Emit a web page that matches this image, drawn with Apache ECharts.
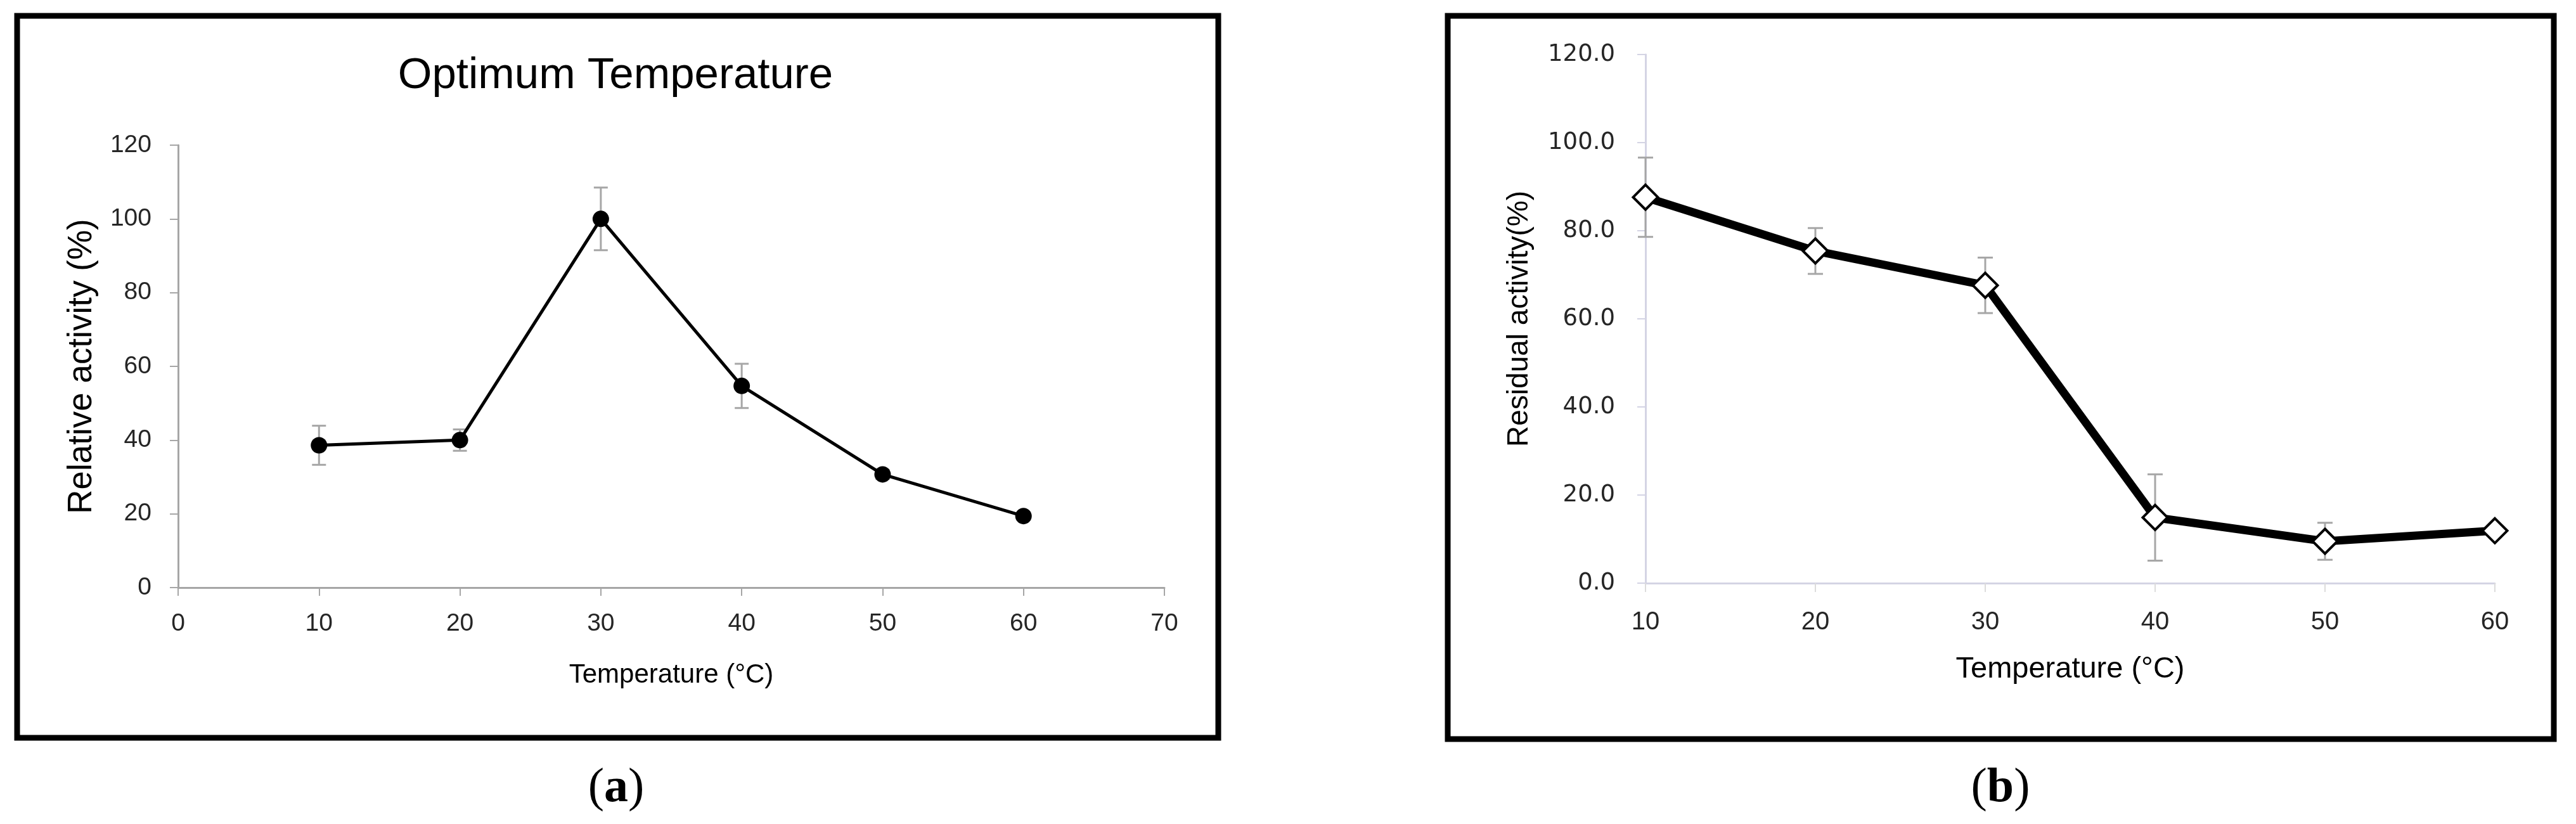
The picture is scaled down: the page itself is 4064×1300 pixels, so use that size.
<!DOCTYPE html>
<html>
<head>
<meta charset="utf-8">
<script src="https://cdn.jsdelivr.net/npm/echarts@6/dist/echarts.min.js"></script>
<style>
html,body{margin:0;padding:0;background:#fff;}
#chart{width:4064px;height:1300px;}
</style>
</head>
<body>
<div id="chart"></div>
<script>
// ---- data ----
const temperatures = [10, 20, 30, 40, 50, 60];
// (a) Optimum temperature: relative activity (%)
const relativeActivity = [38.6, 40.0, 100.0, 54.7, 30.7, 19.4];
const relativeError    = [5.3, 2.9, 8.5, 6.0, 1.2, 1.0];
// (b) Thermal stability: residual activity (%)
const residualActivity = [87.6, 75.4, 67.6, 14.9, 9.5, 11.9];
const residualError    = [9.0, 5.2, 6.3, 9.8, 4.2, 1.0];

const titleA = 'Optimum Temperature';
const yNameA = 'Relative activity (%)';
const yNameB = 'Residual activity(%)';
const xName  = 'Temperature (°C)';

const chart = echarts.init(document.getElementById('chart'), null, {renderer: 'canvas'});

function errBar(capHalf, color, width) {
  return function (params, api) {
    const x = api.value(0), y = api.value(1), e = api.value(2);
    const top = api.coord([x, y + e]);
    const bot = api.coord([x, y - e]);
    const st = {stroke: color, lineWidth: width, fill: null};
    return {
      type: 'group',
      children: [
        {type: 'line', shape: {x1: top[0], y1: top[1], x2: bot[0], y2: bot[1]}, style: st},
        {type: 'line', shape: {x1: top[0] - capHalf, y1: top[1], x2: top[0] + capHalf, y2: top[1]}, style: st},
        {type: 'line', shape: {x1: bot[0] - capHalf, y1: bot[1], x2: bot[0] + capHalf, y2: bot[1]}, style: st}
      ]
    };
  };
}

const sans = '"Liberation Sans", Arial, sans-serif';
const labCol = '#262626';

const option = {
  animation: false,
  backgroundColor: '#ffffff',
  grid: [
    {left: 281, top: 229, width: 1556, height: 698},
    {left: 2596, top: 86, width: 1340, height: 834}
  ],
  xAxis: [
    {
      gridIndex: 0, type: 'value', min: 0, max: 70, interval: 10,
      name: xName, nameLocation: 'middle', nameGap: 117,
      nameTextStyle: {fontFamily: sans, fontSize: 42, color: '#000'},
      axisLine: {lineStyle: {color: '#a6a6a6', width: 3}},
      axisTick: {show: true, length: 13, lineStyle: {color: '#a6a6a6', width: 2}},
      axisLabel: {fontFamily: sans, fontSize: 39, color: labCol, margin: 38},
      splitLine: {show: false}
    },
    {
      gridIndex: 1, type: 'value', min: 10, max: 60, interval: 10,
      name: xName, nameLocation: 'middle', nameGap: 113,
      nameTextStyle: {fontFamily: sans, fontSize: 47, color: '#000'},
      axisLine: {onZero: false, lineStyle: {color: '#d4d4e4', width: 3}},
      axisTick: {show: true, length: 14, lineStyle: {color: '#dcdcdc', width: 2}},
      axisLabel: {fontFamily: sans, fontSize: 40, color: labCol, margin: 42},
      splitLine: {show: false}
    }
  ],
  yAxis: [
    {
      gridIndex: 0, type: 'value', min: 0, max: 120, interval: 20,
      name: yNameA, nameLocation: 'middle', nameGap: 125,
      nameTextStyle: {fontFamily: sans, fontSize: 53, color: '#000'},
      axisLine: {show: true, lineStyle: {color: '#a6a6a6', width: 3}},
      axisTick: {show: true, length: 13, lineStyle: {color: '#a6a6a6', width: 2}},
      axisLabel: {fontFamily: sans, fontSize: 39, color: labCol, margin: 42},
      splitLine: {show: false}
    },
    {
      gridIndex: 1, type: 'value', min: 0, max: 120, interval: 20,
      name: yNameB, nameLocation: 'middle', nameGap: 176,
      nameTextStyle: {fontFamily: sans, fontSize: 46, color: '#000'},
      axisLine: {show: true, onZero: false, lineStyle: {color: '#d4d4e4', width: 3}},
      axisTick: {show: true, length: 13, lineStyle: {color: '#d4d4e4', width: 2}},
      axisLabel: {fontFamily: '"DejaVu Sans", sans-serif', fontSize: 37, color: labCol, margin: 48,
                  formatter: v => v.toFixed(1)},
      splitLine: {show: false}
    }
  ],
  series: [
    {
      type: 'custom', xAxisIndex: 0, yAxisIndex: 0, z: 1,
      renderItem: errBar(11, '#a6a6a6', 3),
      data: temperatures.map((t, i) => [t, relativeActivity[i], relativeError[i]])
    },
    {
      type: 'line', xAxisIndex: 0, yAxisIndex: 0, z: 3,
      data: temperatures.map((t, i) => [t, relativeActivity[i]]),
      lineStyle: {color: '#000', width: 5},
      symbol: 'circle', symbolSize: 26,
      itemStyle: {color: '#000'}
    },
    {
      type: 'custom', xAxisIndex: 1, yAxisIndex: 1, z: 1,
      renderItem: errBar(12, '#a6a6a6', 3),
      data: temperatures.map((t, i) => [t, residualActivity[i], residualError[i]])
    },
    {
      type: 'line', xAxisIndex: 1, yAxisIndex: 1, z: 3,
      data: temperatures.map((t, i) => [t, residualActivity[i]]),
      lineStyle: {color: '#000', width: 13},
      symbol: 'diamond', symbolSize: 39,
      itemStyle: {color: '#fff', borderColor: '#000', borderWidth: 4}
    }
  ],
  graphic: [
    {type: 'rect', shape: {x: 27, y: 25, width: 1895, height: 1139},
     style: {fill: null, stroke: '#000', lineWidth: 9}, z: 10},
    {type: 'rect', shape: {x: 2284, y: 25, width: 1745, height: 1141},
     style: {fill: null, stroke: '#000', lineWidth: 9}, z: 10},
    {type: 'text', x: 971, y: 120, z: 10,
     style: {text: titleA, fontFamily: sans, fontSize: 69, fill: '#000',
             textAlign: 'center', textVerticalAlign: 'middle'}},
    {type: 'text', x: 972, y: 1244, z: 10,
     style: {text: '{p|(}{b|a}{p|)}', textAlign: 'center', textVerticalAlign: 'middle',
             rich: {p: {fontFamily: '"Liberation Serif", serif', fontSize: 76, fill: '#000'},
                    b: {fontFamily: '"Liberation Serif", serif', fontSize: 76, fontWeight: 'bold', fill: '#000'}}}},
    {type: 'text', x: 3156, y: 1244, z: 10,
     style: {text: '{p|(}{b|b}{p|)}', textAlign: 'center', textVerticalAlign: 'middle',
             rich: {p: {fontFamily: '"Liberation Serif", serif', fontSize: 76, fill: '#000'},
                    b: {fontFamily: '"Liberation Serif", serif', fontSize: 76, fontWeight: 'bold', fill: '#000'}}}}
  ]
};
chart.setOption(option);
</script>
</body>
</html>
